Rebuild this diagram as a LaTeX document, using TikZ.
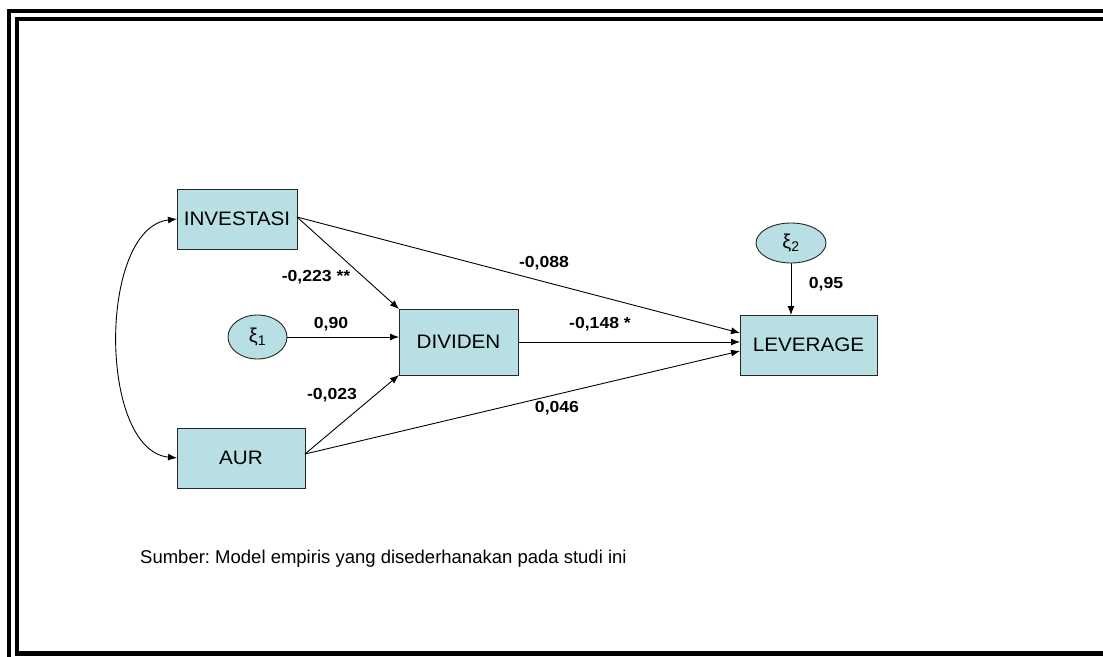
\documentclass[tikz,border=0pt]{standalone}
\usepackage{fontspec}
\usepackage{graphicx}
\setmainfont{Liberation Sans}
\usetikzlibrary{arrows.meta,shapes.geometric}
\definecolor{boxfill}{RGB}{184,224,228}
% slightly widened lettering
\newcommand\wtext[1]{\scalebox{1.06}[1]{#1}}
\newcommand\wcoef[1]{\scalebox{1.1}[1]{#1}}
\frenchspacing

\begin{document}
\begin{tikzpicture}[x=1pt,y=-1pt,
  var/.style={rectangle, draw=black!85, fill=boxfill, line width=0.9pt,
    inner sep=0pt, outer sep=0pt, font=\fontsize{19.5}{20}\selectfont},
  err/.style={ellipse, draw=black!85, fill=boxfill, line width=0.9pt,
    inner sep=0pt, outer sep=0pt, font=\fontsize{20}{20}\selectfont},
  coef/.style={inner sep=0pt, font=\fontsize{16}{16}\selectfont\bfseries},
  link/.style={-{Latex[length=9pt,width=7pt]}, line width=0.9pt},
  frameline/.style={line width=4.2pt}]

\useasboundingbox (0,0) rectangle (1103,656);
\begin{scope}
  \clip (0,0) rectangle (1103,656);
  \draw[frameline] (9,11) rectangle (1200,720);
  \draw[frameline] (17,19) rectangle (1190,653.5);
\end{scope}

% observed variables
\node[var, minimum width=120, minimum height=60] (inv) at (237,219) {\wtext{INVESTASI}};
\node[var, minimum width=128, minimum height=60] (aur) at (241,458) {\wtext{AUR}};
\node[var, minimum width=119, minimum height=66] (div) at (458.5,342) {\wtext{DIVIDEN}};
\node[var, minimum width=137, minimum height=60] (lev) at (808.5,345) {\wtext{LEVERAGE}};

% disturbance terms
\node[err, minimum width=59, minimum height=44] (e1) at (257.5,337) {ξ\textsubscript{1}};
\node[err, minimum width=70, minimum height=40] (e2) at (791,243) {ξ\textsubscript{2}};

% anchor points on the box edges
\coordinate (invR) at (297,217);
\coordinate (aurR) at (305,454);
\coordinate (divTL) at (399,309);
\coordinate (divBL) at (399,375);
\coordinate (divL) at (399,337);
\coordinate (divR) at (518,342);
\coordinate (levA) at (740,333);
\coordinate (levB) at (740,342);
\coordinate (levC) at (740,351);

% paths
\draw[link] (invR) -- (divTL);
\draw[link] (invR) -- (levA);
\draw[link] (e1.east) -- (divL);
\draw[link] (divR) -- (levB);
\draw[link] (aurR) -- (divBL);
\draw[link] (aurR) -- (levC);
\draw[link] (e2.south) -- (lev.north -| e2.south);

% correlation between the exogenous variables
\draw[{Latex[length=9pt,width=7pt]}-{Latex[length=9pt,width=7pt]}, line width=0.9pt]
  (inv.west) .. controls (98,228) and (98,450) .. (aur.west);

% coefficients
\node[coef] (c1) at (316,277) {\wcoef{-0,223 **}};
\node[coef] (c2) at (544,263) {\wcoef{-0,088}};
\node[coef] (c3) at (331,324) {\wcoef{0,90}};
\node[coef] (c4) at (600,324) {\wcoef{-0,148 *}};
\node[coef] (c5) at (332,395) {\wcoef{-0,023}};
\node[coef] (c6) at (557,408) {\wcoef{0,046}};
\node[coef] (c7) at (826,284) {\wcoef{0,95}};

% source note
\node[anchor=west, inner sep=0pt, font=\fontsize{18.5}{19}\selectfont] (src) at (140,559)
  {Sumber: Model empiris yang disederhanakan pada studi ini};
\end{tikzpicture}
\end{document}
